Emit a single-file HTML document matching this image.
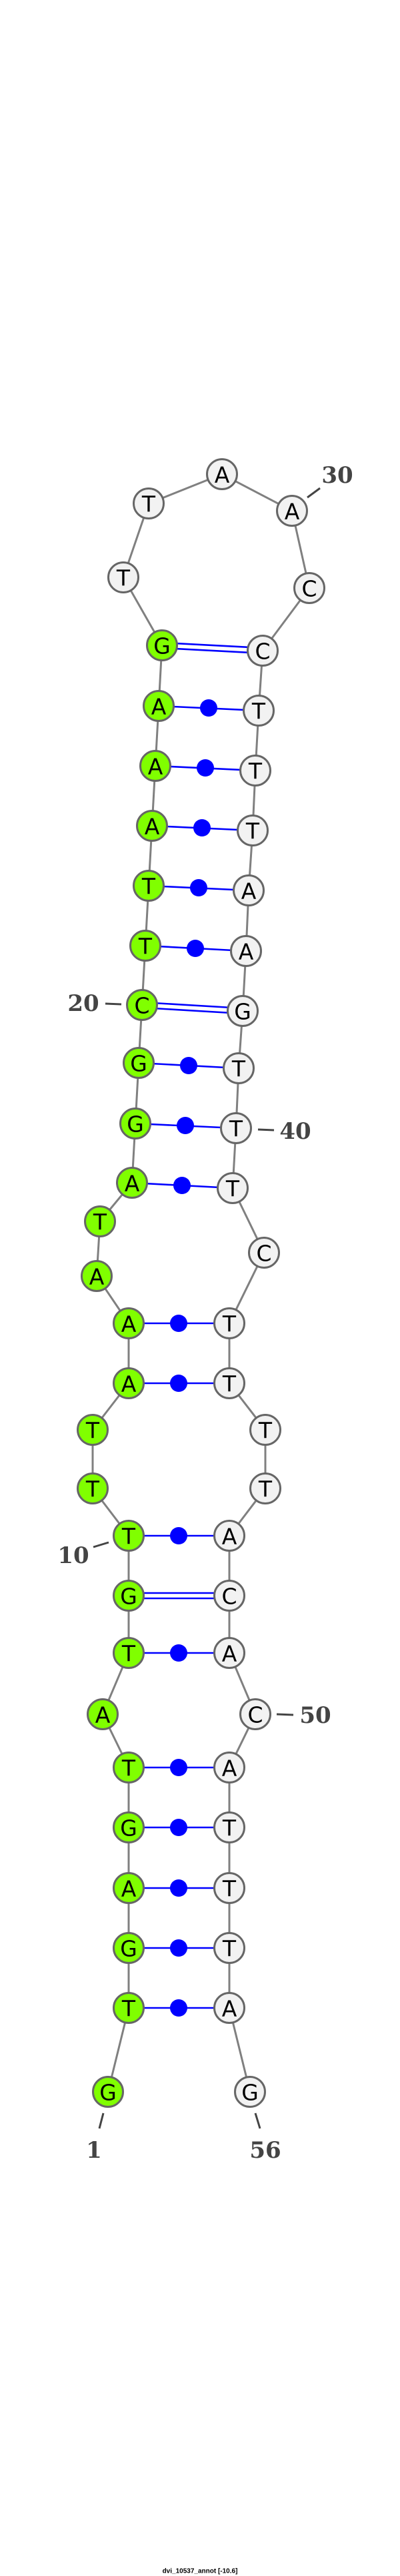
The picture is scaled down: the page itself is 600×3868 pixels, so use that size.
<!DOCTYPE html>
<html><head><meta charset="utf-8"><style>
html,body{margin:0;padding:0;background:#fff;}
svg{display:block;}
.bb{stroke:#808080;stroke-width:3;fill:none;}
.bp{stroke:#0000ff;stroke-width:2.6;}
.n{stroke:#666;stroke-width:3;}
.g{fill:#80ff00;}
.w{fill:#f2f2f2;}
.t{font-family:"DejaVu Sans",sans-serif;font-size:33px;text-anchor:middle;dominant-baseline:central;fill:#000;}
.l{font-family:"DejaVu Serif",serif;font-weight:bold;font-size:34px;text-anchor:middle;dominant-baseline:central;fill:#444;}
.tk{stroke:#444;stroke-width:3;}
</style></head><body>
<svg width="600" height="3868" viewBox="0 0 600 3868" xmlns="http://www.w3.org/2000/svg">
<polyline class="bb" points="162,3141 193,3015 193,2925 193,2835 193,2744 193,2654 154,2574 193,2482 193,2396 193,2306 139,2235 139,2147 193,2077 193,1987 145,1916 150,1834 198,1776 203,1687 208,1596 213,1509 218,1420 223,1330 228,1240 233,1150 238,1060 243,969 185,867 223,756 333,712 438,767 464,883 394,977 388,1067 383,1157 379,1247 373,1337 369,1428 364,1518 358,1604 354,1694 349,1784 396,1881 344,1987 344,2077 398,2147 398,2235 344,2306 344,2396 344,2482 383,2574 344,2654 344,2744 344,2835 344,2925 344,3015 375,3141"/>
<g class="bp">
<line x1="193" y1="3015" x2="344" y2="3015"/>
<line x1="193" y1="2925" x2="344" y2="2925"/>
<line x1="193" y1="2835" x2="344" y2="2835"/>
<line x1="193" y1="2744" x2="344" y2="2744"/>
<line x1="193" y1="2654" x2="344" y2="2654"/>
<line x1="193" y1="2482" x2="344" y2="2482"/>
<line x1="193" y1="2392" x2="344" y2="2392"/>
<line x1="193" y1="2400" x2="344" y2="2400"/>
<line x1="193" y1="2306" x2="344" y2="2306"/>
<line x1="193" y1="2077" x2="344" y2="2077"/>
<line x1="193" y1="1987" x2="344" y2="1987"/>
<line x1="198" y1="1776" x2="349" y2="1784"/>
<line x1="203" y1="1687" x2="354" y2="1694"/>
<line x1="208" y1="1596" x2="358" y2="1604"/>
<line x1="213" y1="1505" x2="364" y2="1514"/>
<line x1="213" y1="1513" x2="364" y2="1522"/>
<line x1="218" y1="1420" x2="369" y2="1428"/>
<line x1="223" y1="1330" x2="373" y2="1337"/>
<line x1="228" y1="1240" x2="379" y2="1247"/>
<line x1="233" y1="1150" x2="383" y2="1157"/>
<line x1="238" y1="1060" x2="388" y2="1067"/>
<line x1="243" y1="965" x2="394" y2="973"/>
<line x1="243" y1="973" x2="394" y2="981"/>
</g>
<g fill="#0000ff">
<circle cx="268" cy="3015" r="13"/><circle cx="268" cy="2925" r="13"/><circle cx="268" cy="2835" r="13"/><circle cx="268" cy="2744" r="13"/><circle cx="268" cy="2654" r="13"/><circle cx="268" cy="2482" r="13"/><circle cx="268" cy="2306" r="13"/><circle cx="268" cy="2077" r="13"/><circle cx="268" cy="1987" r="13"/>
<circle cx="273" cy="1780" r="13"/><circle cx="278" cy="1690" r="13"/><circle cx="283" cy="1600" r="13"/><circle cx="293" cy="1424" r="13"/><circle cx="298" cy="1333" r="13"/><circle cx="303" cy="1243" r="13"/><circle cx="308" cy="1153" r="13"/><circle cx="313" cy="1063" r="13"/>
</g>
<g>
<circle class="n g" cx="162" cy="3141" r="22.5"/><text class="t" x="162" y="3142">G</text>
<circle class="n g" cx="193" cy="3015" r="22.5"/><text class="t" x="193" y="3016">T</text>
<circle class="n g" cx="193" cy="2925" r="22.5"/><text class="t" x="193" y="2926">G</text>
<circle class="n g" cx="193" cy="2835" r="22.5"/><text class="t" x="193" y="2836">A</text>
<circle class="n g" cx="193" cy="2744" r="22.5"/><text class="t" x="193" y="2745">G</text>
<circle class="n g" cx="193" cy="2654" r="22.5"/><text class="t" x="193" y="2655">T</text>
<circle class="n g" cx="154" cy="2574" r="22.5"/><text class="t" x="154" y="2575">A</text>
<circle class="n g" cx="193" cy="2482" r="22.5"/><text class="t" x="193" y="2483">T</text>
<circle class="n g" cx="193" cy="2396" r="22.5"/><text class="t" x="193" y="2397">G</text>
<circle class="n g" cx="193" cy="2306" r="22.5"/><text class="t" x="193" y="2307">T</text>
<circle class="n g" cx="139" cy="2235" r="22.5"/><text class="t" x="139" y="2236">T</text>
<circle class="n g" cx="139" cy="2147" r="22.5"/><text class="t" x="139" y="2148">T</text>
<circle class="n g" cx="193" cy="2077" r="22.5"/><text class="t" x="193" y="2078">A</text>
<circle class="n g" cx="193" cy="1987" r="22.5"/><text class="t" x="193" y="1988">A</text>
<circle class="n g" cx="145" cy="1916" r="22.5"/><text class="t" x="145" y="1917">A</text>
<circle class="n g" cx="150" cy="1834" r="22.5"/><text class="t" x="150" y="1835">T</text>
<circle class="n g" cx="198" cy="1776" r="22.5"/><text class="t" x="198" y="1777">A</text>
<circle class="n g" cx="203" cy="1687" r="22.5"/><text class="t" x="203" y="1688">G</text>
<circle class="n g" cx="208" cy="1596" r="22.5"/><text class="t" x="208" y="1597">G</text>
<circle class="n g" cx="213" cy="1509" r="22.5"/><text class="t" x="213" y="1510">C</text>
<circle class="n g" cx="218" cy="1420" r="22.5"/><text class="t" x="218" y="1421">T</text>
<circle class="n g" cx="223" cy="1330" r="22.5"/><text class="t" x="223" y="1331">T</text>
<circle class="n g" cx="228" cy="1240" r="22.5"/><text class="t" x="228" y="1241">A</text>
<circle class="n g" cx="233" cy="1150" r="22.5"/><text class="t" x="233" y="1151">A</text>
<circle class="n g" cx="238" cy="1060" r="22.5"/><text class="t" x="238" y="1061">A</text>
<circle class="n g" cx="243" cy="969" r="22.5"/><text class="t" x="243" y="970">G</text>
<circle class="n w" cx="185" cy="867" r="22.5"/><text class="t" x="185" y="868">T</text>
<circle class="n w" cx="223" cy="756" r="22.5"/><text class="t" x="223" y="757">T</text>
<circle class="n w" cx="333" cy="712" r="22.5"/><text class="t" x="333" y="713">A</text>
<circle class="n w" cx="438" cy="767" r="22.5"/><text class="t" x="438" y="768">A</text>
<circle class="n w" cx="464" cy="883" r="22.5"/><text class="t" x="464" y="884">C</text>
<circle class="n w" cx="394" cy="977" r="22.5"/><text class="t" x="394" y="978">C</text>
<circle class="n w" cx="388" cy="1067" r="22.5"/><text class="t" x="388" y="1068">T</text>
<circle class="n w" cx="383" cy="1157" r="22.5"/><text class="t" x="383" y="1158">T</text>
<circle class="n w" cx="379" cy="1247" r="22.5"/><text class="t" x="379" y="1248">T</text>
<circle class="n w" cx="373" cy="1337" r="22.5"/><text class="t" x="373" y="1338">A</text>
<circle class="n w" cx="369" cy="1428" r="22.5"/><text class="t" x="369" y="1429">A</text>
<circle class="n w" cx="364" cy="1518" r="22.5"/><text class="t" x="364" y="1519">G</text>
<circle class="n w" cx="358" cy="1604" r="22.5"/><text class="t" x="358" y="1605">T</text>
<circle class="n w" cx="354" cy="1694" r="22.5"/><text class="t" x="354" y="1695">T</text>
<circle class="n w" cx="349" cy="1784" r="22.5"/><text class="t" x="349" y="1785">T</text>
<circle class="n w" cx="396" cy="1881" r="22.5"/><text class="t" x="396" y="1882">C</text>
<circle class="n w" cx="344" cy="1987" r="22.5"/><text class="t" x="344" y="1988">T</text>
<circle class="n w" cx="344" cy="2077" r="22.5"/><text class="t" x="344" y="2078">T</text>
<circle class="n w" cx="398" cy="2147" r="22.5"/><text class="t" x="398" y="2148">T</text>
<circle class="n w" cx="398" cy="2235" r="22.5"/><text class="t" x="398" y="2236">T</text>
<circle class="n w" cx="344" cy="2306" r="22.5"/><text class="t" x="344" y="2307">A</text>
<circle class="n w" cx="344" cy="2396" r="22.5"/><text class="t" x="344" y="2397">C</text>
<circle class="n w" cx="344" cy="2482" r="22.5"/><text class="t" x="344" y="2483">A</text>
<circle class="n w" cx="383" cy="2574" r="22.5"/><text class="t" x="383" y="2575">C</text>
<circle class="n w" cx="344" cy="2654" r="22.5"/><text class="t" x="344" y="2655">A</text>
<circle class="n w" cx="344" cy="2744" r="22.5"/><text class="t" x="344" y="2745">T</text>
<circle class="n w" cx="344" cy="2835" r="22.5"/><text class="t" x="344" y="2836">T</text>
<circle class="n w" cx="344" cy="2925" r="22.5"/><text class="t" x="344" y="2926">T</text>
<circle class="n w" cx="344" cy="3015" r="22.5"/><text class="t" x="344" y="3016">A</text>
<circle class="n w" cx="375" cy="3141" r="22.5"/><text class="t" x="375" y="3142">G</text>
</g>
<g class="tk">
<line x1="461" y1="747" x2="480" y2="733"/>
<line x1="158" y1="1507" x2="182" y2="1508"/>
<line x1="387" y1="1696" x2="411" y2="1697"/>
<line x1="140" y1="2323" x2="163" y2="2316"/>
<line x1="415" y1="2574" x2="440" y2="2575"/>
<line x1="155" y1="3173" x2="149" y2="3196"/>
<line x1="383" y1="3173" x2="390" y2="3196"/>
</g>
<text class="l" x="506" y="714">30</text>
<text class="l" x="125" y="1507">20</text>
<text class="l" x="443" y="1699">40</text>
<text class="l" x="110" y="2336">10</text>
<text class="l" x="473" y="2576">50</text>
<text class="l" x="141" y="3229">1</text>
<text class="l" x="398" y="3229">56</text>
<text x="300" y="3861" font-family="'Liberation Sans',sans-serif" font-weight="bold" font-size="10" text-anchor="middle" dominant-baseline="central" fill="#000">dvi_10537_annot [-10.6]</text>
</svg>
</body></html>
